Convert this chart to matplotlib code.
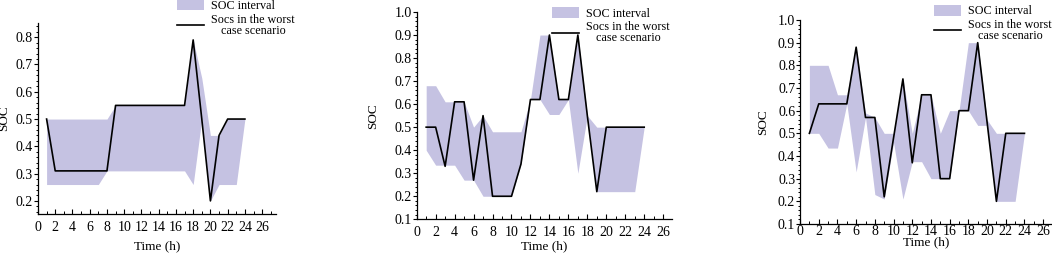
import matplotlib
matplotlib.use("Agg")
import matplotlib.pyplot as plt
from matplotlib.ticker import MultipleLocator

plt.rcParams['font.family'] = ['Liberation Serif', 'DejaVu Serif']

hours = list(range(1, 25))

# panel 1
p1_line = [0.50, 0.31, 0.31, 0.31, 0.31, 0.31, 0.31, 0.31, 0.55, 0.55, 0.55, 0.55,
           0.55, 0.55, 0.55, 0.55, 0.55, 0.79, 0.50, 0.20, 0.44, 0.50, 0.50, 0.50]
p1_upper = [0.50, 0.50, 0.50, 0.50, 0.50, 0.50, 0.50, 0.50, 0.55, 0.55, 0.55, 0.55,
            0.55, 0.55, 0.55, 0.55, 0.55, 0.79, 0.65, 0.44, 0.44, 0.50, 0.50, 0.50]
p1_lower = [0.26, 0.26, 0.26, 0.26, 0.26, 0.26, 0.26, 0.31, 0.31, 0.31, 0.31, 0.31,
            0.31, 0.31, 0.31, 0.31, 0.31, 0.26, 0.50, 0.20, 0.26, 0.26, 0.26, 0.50]

# panel 2
p2_line = [0.50, 0.50, 0.33, 0.61, 0.61, 0.27, 0.55, 0.20, 0.20, 0.20, 0.34, 0.62,
           0.62, 0.90, 0.62, 0.62, 0.90, 0.55, 0.22, 0.50, 0.50, 0.50, 0.50, 0.50]
p2_upper = [0.68, 0.68, 0.61, 0.61, 0.61, 0.50, 0.55, 0.48, 0.48, 0.48, 0.48, 0.62,
            0.90, 0.90, 0.62, 0.62, 0.90, 0.55, 0.50, 0.50, 0.50, 0.50, 0.50, 0.50]
p2_lower = [0.40, 0.335, 0.335, 0.335, 0.27, 0.27, 0.20, 0.20, 0.20, 0.20, 0.34, 0.62,
            0.62, 0.555, 0.555, 0.62, 0.30, 0.55, 0.22, 0.22, 0.22, 0.22, 0.22, 0.50]

# panel 3
p3_line = [0.50, 0.63, 0.63, 0.63, 0.63, 0.88, 0.57, 0.57, 0.22, 0.48, 0.74, 0.37,
           0.67, 0.67, 0.30, 0.30, 0.60, 0.60, 0.90, 0.55, 0.20, 0.50, 0.50, 0.50]
p3_upper = [0.80, 0.80, 0.80, 0.67, 0.67, 0.88, 0.59, 0.57, 0.50, 0.50, 0.74, 0.50,
            0.67, 0.67, 0.50, 0.60, 0.60, 0.90, 0.90, 0.56, 0.50, 0.50, 0.50, 0.50]
p3_lower = [0.50, 0.50, 0.435, 0.435, 0.63, 0.33, 0.57, 0.23, 0.21, 0.46, 0.21, 0.375,
            0.375, 0.30, 0.30, 0.30, 0.60, 0.60, 0.535, 0.535, 0.20, 0.20, 0.20, 0.50]

xticks = list(range(0, 27, 2))

fill_color = '#c5c2e2'

fig = plt.figure(figsize=(10.52, 2.54), dpi=100)

panels = [
    # rect, xlim, ylim, data, legend anchor, xtick pad, xlabel pad, ylabel pad
    ([0.0361, 0.1575, 0.2262, 0.7519], (0, 27.6), (0.152, 0.852),
     (p1_line, p1_upper, p1_lower), (0.1683, 1.002), 5, 4.5, 4),
    ([0.3961, 0.1366, 0.2424, 0.8162], (0, 26.9), (0.1, 1.0),
     (p2_line, p2_upper, p2_lower), (0.5247, 0.972), 5, 0.5, 11),
    ([0.7605, 0.1181, 0.2400, 0.8032], (0, 27.0), (0.1, 1.0),
     (p3_line, p3_upper, p3_lower), (0.8878, 0.981), 0.8, -1, 6),
]

for rect, xl, yl, (line, up, lo), anchor, tpad, xpad, ypad in panels:
    ax = fig.add_axes(rect)
    ax.fill_between(hours, lo, up, color=fill_color, linewidth=0, label='SOC interval')
    ax.plot(hours, line, color='black', linewidth=1.2,
            label='Socs in the worst\ncase scenario')
    ax.set_xlim(*xl)
    ax.set_ylim(*yl)
    ax.set_xticks(xticks)
    ax.xaxis.set_minor_locator(MultipleLocator(1))
    ax.yaxis.set_major_locator(MultipleLocator(0.1))
    ax.yaxis.set_minor_locator(MultipleLocator(0.02))
    ax.tick_params(axis='x', which='both', direction='in', labelsize=10, pad=tpad)
    ax.tick_params(axis='x', which='major', length=3.5, width=0.8)
    ax.tick_params(axis='x', which='minor', length=2, width=0.7)
    ax.tick_params(axis='y', which='both', direction='out', labelsize=10, pad=0.5)
    ax.tick_params(axis='y', which='major', length=3, width=0.8)
    ax.tick_params(axis='y', which='minor', length=1.8, width=0.7)
    for s in ['top', 'right']:
        ax.spines[s].set_visible(False)
    for s in ['left', 'bottom']:
        ax.spines[s].set_linewidth(0.9)
    ax.set_xlabel('Time (h)', fontsize=9.5, labelpad=xpad)
    ax.set_ylabel('SOC', fontsize=9.5, labelpad=ypad)
    leg = ax.legend(loc='upper left', bbox_to_anchor=anchor, bbox_transform=fig.transFigure,
                    frameon=False, fontsize=8.7, borderpad=0, borderaxespad=0,
                    handlelength=2.2, handleheight=1.0, handletextpad=0.65,
                    labelspacing=0.15)
    for t in leg.get_texts():
        t.set_multialignment('center')
        t.set_linespacing(0.85)

fig.savefig('out.png', dpi=100)
